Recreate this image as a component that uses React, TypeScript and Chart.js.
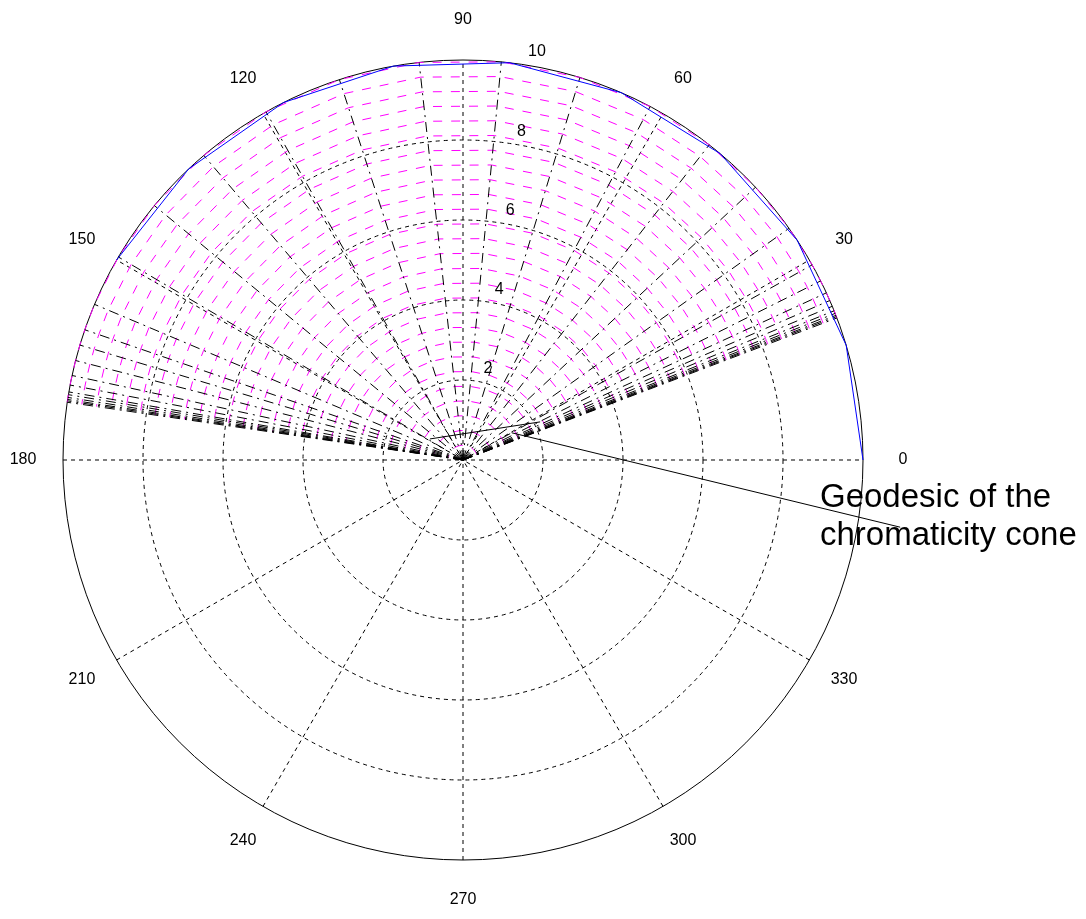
import React, { useEffect, useRef } from 'react';
import { Chart, registerables } from 'chart.js';

Chart.register(...registerables);

// ---- data ----
const angleTicksDeg = [0, 30, 60, 90, 120, 150, 180, 210, 240, 270, 300, 330];
const angleTickLabels = ['0', '30', '60', '90', '120', '150', '180', '210', '240', '270', '300', '330'];
const radiusTicks = [2, 4, 6, 8, 10];
const radiusTickLabels = ['2', '4', '6', '8', '10'];
const rMax = 10;

// mesh: radial (black dash-dot) lines at these angles, arcs (magenta dashed) at these radii
const meshAnglesDeg = [
  20.8, 21.0, 21.2, 21.5, 21.9, 22.6, 23.5, 24.7, 26.6, 29.2, 35.4, 43.0, 52.0, 62.1, 73.0,
  84.5, 96.3, 108.0, 119.5, 130.4, 140.5, 149.5, 157.1, 161.0, 163.3, 165.6, 167.8, 169.2,
  170.2, 170.6, 171.0, 171.3, 171.5, 171.7,
];
const arcRadii = [
  0.37, 0.74, 1.11, 1.48, 1.85, 2.22, 2.59, 2.96, 3.33, 3.7, 4.07, 4.44, 4.81, 5.19, 5.56,
  5.93, 6.3, 6.67, 7.04, 7.41, 7.78, 8.15, 8.52, 8.89, 9.26, 9.63, 10.0,
];

// blue boundary polyline
const boundaryAnglesDeg = [0, 16.67, 33.33, 50, 66.67, 83.33, 100, 116.67, 133.33, 150];
const boundaryRadii = [10, 10, 10, 10, 10, 10, 10, 10, 10, 10];

// geodesic of the chromaticity cone
const geodesicRadii = [0.98, 2.15];
const geodesicAnglesDeg = [147.5, 26.3];

// annotation
const annotationText = ['Geodesic of the', 'chromaticity cone'];

const toXY = (r: number, deg: number) => {
  const a = (deg * Math.PI) / 180;
  return { x: r * Math.cos(a), y: r * Math.sin(a) };
};

const polarPlugin = {
  id: 'polarGrid',
  beforeDatasetsDraw(chart: any) {
    const { ctx, scales } = chart;
    const xs = scales.x;
    const ys = scales.y;
    const cx = xs.getPixelForValue(0);
    const cy = ys.getPixelForValue(0);
    const unit = xs.getPixelForValue(1) - cx;
    ctx.save();
    ctx.strokeStyle = '#000';
    ctx.lineWidth = 1;
    ctx.setLineDash([4, 4]);
    for (let i = 0; i < 6; i++) {
      const a = (angleTicksDeg[i] * Math.PI) / 180;
      ctx.beginPath();
      ctx.moveTo(xs.getPixelForValue(-rMax * Math.cos(a)), ys.getPixelForValue(-rMax * Math.sin(a)));
      ctx.lineTo(xs.getPixelForValue(rMax * Math.cos(a)), ys.getPixelForValue(rMax * Math.sin(a)));
      ctx.stroke();
    }
    radiusTicks.forEach((r) => {
      if (r === rMax) return;
      ctx.beginPath();
      ctx.arc(cx, cy, r * unit, 0, Math.PI * 2);
      ctx.stroke();
    });
    ctx.setLineDash([]);
    ctx.beginPath();
    ctx.arc(cx, cy, rMax * unit, 0, Math.PI * 2);
    ctx.stroke();
    ctx.restore();
  },
  afterDraw(chart: any) {
    const { ctx, scales } = chart;
    const xs = scales.x;
    const ys = scales.y;
    ctx.save();
    ctx.fillStyle = '#000';
    ctx.font = '16px "Liberation Sans", Arial, sans-serif';
    ctx.textAlign = 'center';
    ctx.textBaseline = 'middle';
    angleTicksDeg.forEach((d, i) => {
      const p = toXY(rMax * 1.1, d);
      ctx.fillText(angleTickLabels[i], xs.getPixelForValue(p.x), ys.getPixelForValue(p.y));
    });
    ctx.textAlign = 'left';
    ctx.textBaseline = 'bottom';
    radiusTicks.forEach((r, i) => {
      const p = toXY(r + 0.1, 82);
      ctx.fillText('  ' + radiusTickLabels[i], xs.getPixelForValue(p.x), ys.getPixelForValue(p.y));
    });
    ctx.strokeStyle = '#000';
    ctx.lineWidth = 1;
    ctx.beginPath();
    ctx.moveTo(xs.getPixelForValue(1.22), ys.getPixelForValue(0.68));
    ctx.lineTo(xs.getPixelForValue(10.93), ys.getPixelForValue(-1.68));
    ctx.stroke();
    ctx.font = '33px "Liberation Sans", Arial, sans-serif';
    ctx.textBaseline = 'middle';
    ctx.fillText(annotationText[0], 820, 498);
    ctx.fillText(annotationText[1], 820, 536);
    ctx.restore();
  },
};

export default function App() {
  const canvasRef = useRef<HTMLCanvasElement | null>(null);

  useEffect(() => {
    if (!canvasRef.current) return;
    const datasets: any[] = [];
    datasets.push({
      data: geodesicRadii.map((r, i) => toXY(r, geodesicAnglesDeg[i])),
      borderColor: '#000',
      borderWidth: 1,
      order: 0,
    });
    datasets.push({
      data: boundaryRadii.map((r, i) => toXY(r, boundaryAnglesDeg[i])),
      borderColor: '#0000ff',
      borderWidth: 1,
      order: 1,
    });
    meshAnglesDeg.forEach((t) => {
      datasets.push({
        data: [toXY(0, t), toXY(arcRadii[arcRadii.length - 1], t)],
        borderColor: '#000',
        borderWidth: 1,
        borderDash: [10, 5, 2, 5],
        order: 2,
      });
    });
    arcRadii.forEach((r) => {
      datasets.push({
        data: meshAnglesDeg.map((t) => toXY(r, t)),
        borderColor: '#ff00ff',
        borderWidth: 1,
        borderDash: [9, 9],
        order: 3,
      });
    });
    datasets.forEach((d) => {
      d.showLine = true;
      d.pointRadius = 0;
      d.pointHoverRadius = 0;
      d.fill = false;
      d.tension = 0;
      d.clip = false;
    });

    const chart = new Chart(canvasRef.current, {
      type: 'scatter',
      data: { datasets },
      options: {
        animation: false,
        responsive: true,
        maintainAspectRatio: false,
        events: [],
        layout: { padding: { left: 63, right: 223, top: 60, bottom: 59 } },
        scales: {
          x: { type: 'linear', min: -10, max: 10, display: false },
          y: { type: 'linear', min: -10, max: 10, display: false },
        },
        plugins: { legend: { display: false }, tooltip: { enabled: false } },
      },
      plugins: [polarPlugin],
    } as any);
    return () => chart.destroy();
  }, []);

  return (
    <div style={{ position: 'absolute', left: 0, top: 0, width: 1086, height: 919, background: '#fff' }}>
      <canvas ref={canvasRef} />
    </div>
  );
}
